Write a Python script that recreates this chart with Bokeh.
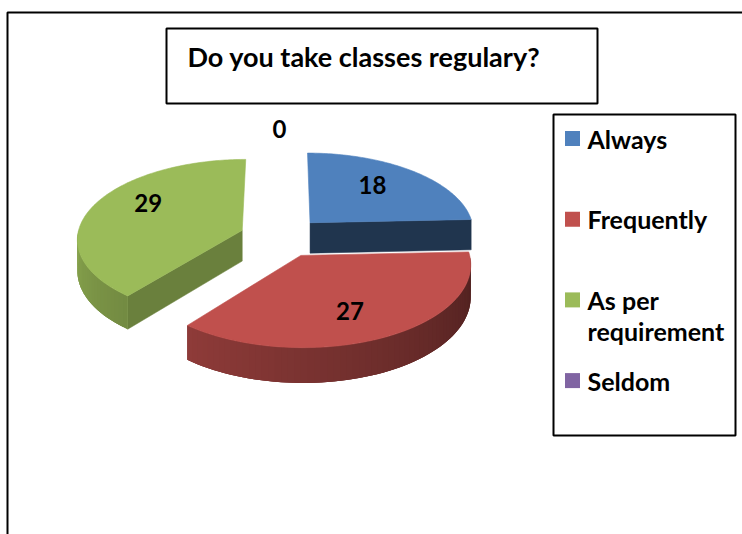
import math
import textwrap
import numpy as np
from bokeh.plotting import figure
from bokeh.models import Range1d
from bokeh.core.properties import value
from bokeh.embed import file_html
from bokeh.resources import INLINE

# ---- data ----
categories = ["Always", "Frequently", "As per requirement", "Seldom"]
values = [18, 27, 29, 0]
colors = ["#4F81BD", "#C0504D", "#9BBB59", "#8064A2"]
title_text = "Do you take classes regulary?"

# ---- layout / style ----
W, H = 742, 534
FONT = "Lato"
X0, Y0 = 281.0, 236.5      # pie centre (top face)
R = 165.0                  # radius
EXPL = 42.0                # explosion distance
K = 0.48                   # vertical squash
P = 0.0006                 # perspective strength
DEPTH = 31.0               # pie thickness
LABEL_NUDGE = [(-3, -5), (-2, 7), (-1, -12), (-2, -2)]   # pixel nudges of data labels

p = figure(width=W, height=H, x_range=Range1d(0, W), y_range=Range1d(H, 0),
           output_backend="svg", toolbar_location=None, min_border=0)
p.axis.visible = False
p.grid.visible = False
p.outline_line_color = None
p.background_fill_color = "white"
p.border_fill_color = "white"


def proj(u, v, z):
    s = 1.0 / (1.0 + P * v)
    return X0 + u * s, Y0 - K * v * s + z * DEPTH * s


def hex2rgb(h):
    h = h.lstrip("#")
    return tuple(int(h[i:i + 2], 16) for i in (0, 2, 4))


def shade(h, f):
    r, g, b = hex2rgb(h)
    f = max(0.0, min(1.0, f))
    return "#%02x%02x%02x" % (int(r * f), int(g * f), int(b * f))


def pt(theta_deg, r, ou, ov, z):
    t = math.radians(theta_deg)
    return proj(ou + r * math.sin(t), ov + r * math.cos(t), z)


def side_f(theta):
    return 0.4 + (theta - 90) * 0.345 / 129.0


total = float(sum(values))
slices = []
start = 0.0
for cat, val, col in zip(categories, values, colors):
    span = 360.0 * val / total
    a0, a1 = start, start + span
    mid = (a0 + a1) / 2.0
    ou = EXPL * math.sin(math.radians(mid))
    ov = EXPL * math.cos(math.radians(mid))
    slices.append(dict(cat=cat, val=val, col=col, a0=a0, a1=a1, mid=mid, ou=ou, ov=ov))
    start = a1

# draw back to front
order = sorted([s for s in slices if s["val"] > 0], key=lambda s: -s["ov"])
for s in order:
    a0, a1, ou, ov, col = s["a0"], s["a1"], s["ou"], s["ov"], s["col"]
    # radial faces
    faces = []
    if math.sin(math.radians(a1)) > 0.02:
        faces.append((a1, (a1 + 90) % 360))
    if math.sin(math.radians(a0)) < -0.02:
        faces.append((a0, (a0 - 90) % 360))
    for ang, phi in faces:
        c_t = proj(ou, ov, 0)
        c_b = proj(ou, ov, 1)
        r_t = pt(ang, R, ou, ov, 0)
        r_b = pt(ang, R, ou, ov, 1)
        fcol = shade(col, 0.4 + 0.0056 * (180 - phi))
        p.patch([c_t[0], r_t[0], r_b[0], c_b[0]], [c_t[1], r_t[1], r_b[1], c_b[1]],
                fill_color=fcol, line_color=fcol, line_width=0.5)
    # outer side
    lo, hi = max(a0, 90.0), min(a1, 270.0)
    if hi > lo:
        n = max(2, int((hi - lo) / 2.0))
        th = np.linspace(lo, hi, n + 1)
        top = [pt(a, R, ou, ov, 0) for a in th]
        bot = [pt(a, R, ou, ov, 1) for a in th[::-1]]
        poly = top + bot
        p.patch([q[0] for q in poly], [q[1] for q in poly],
                fill_color=shade(col, side_f((lo + hi) / 2)), line_color=None)
        xs, ys, fc = [], [], []
        for i in range(n):
            j = min(n, i + 2)
            p1 = pt(th[i], R, ou, ov, 0)
            p2 = pt(th[j], R, ou, ov, 0)
            p3 = pt(th[j], R, ou, ov, 1)
            p4 = pt(th[i], R, ou, ov, 1)
            xs.append([p1[0], p2[0], p3[0], p4[0]])
            ys.append([p1[1], p2[1], p3[1], p4[1]])
            tm = (th[i] + th[i + 1]) / 2
            fc.append(shade(col, side_f(tm)))
        p.patches(xs, ys, fill_color=fc, line_color=None)
    # top face
    arc = np.linspace(a0, a1, max(3, int(a1 - a0) + 1))
    tx, ty = [], []
    c = proj(ou, ov, 0)
    tx.append(c[0]); ty.append(c[1])
    for a in arc:
        q = pt(a, R, ou, ov, 0)
        tx.append(q[0]); ty.append(q[1])
    p.patch(tx, ty, fill_color=col, line_color=col, line_width=0.6)

# data labels
lx, ly, lt = [], [], []
for s, (dx, dy) in zip(slices, LABEL_NUDGE):
    rl = 0.62 * R if s["val"] > 0 else 1.29 * R
    q = pt(s["mid"], rl, s["ou"], s["ov"], 0)
    lx.append(q[0] + dx); ly.append(q[1] + dy); lt.append(str(s["val"]))
p.text(lx, ly, text=lt, text_font=value(FONT), text_font_style="bold",
       text_font_size="24px", text_align="center", text_baseline="middle",
       text_color="black")

# outer frame
p.line([7, 7, W], [H, 12, 12], line_color="black", line_width=2)

# title box
p.quad(left=166, right=597, top=28, bottom=103, fill_color=None,
       line_color="black", line_width=2)
p.text([187], [56], text=[title_text], text_font=value(FONT),
       text_font_style="bold", text_font_size="27px", text_align="left",
       text_baseline="middle", text_color="black")

# legend box
p.quad(left=553, right=735, top=114, bottom=435, fill_color=None,
       line_color="black", line_width=2)
ey = 138.0
mx, my, mc = [], [], []
tx, ty, tt = [], [], []
for cat, col in zip(categories, colors):
    mx.append(572); my.append(ey); mc.append(col)
    lines = textwrap.wrap(cat, 12)
    for j, ln in enumerate(lines):
        tx.append(587); ty.append(ey + 31 * j); tt.append(ln)
    ey += 80.7
p.scatter(mx, my, marker="square", size=15, fill_color=mc, line_color=None)
p.text(tx, ty, text=tt, text_font=value(FONT), text_font_style="bold",
       text_font_size="25px", text_align="left", text_baseline="middle",
       text_color="black")

open("out.html", "w").write(file_html(p, INLINE))
